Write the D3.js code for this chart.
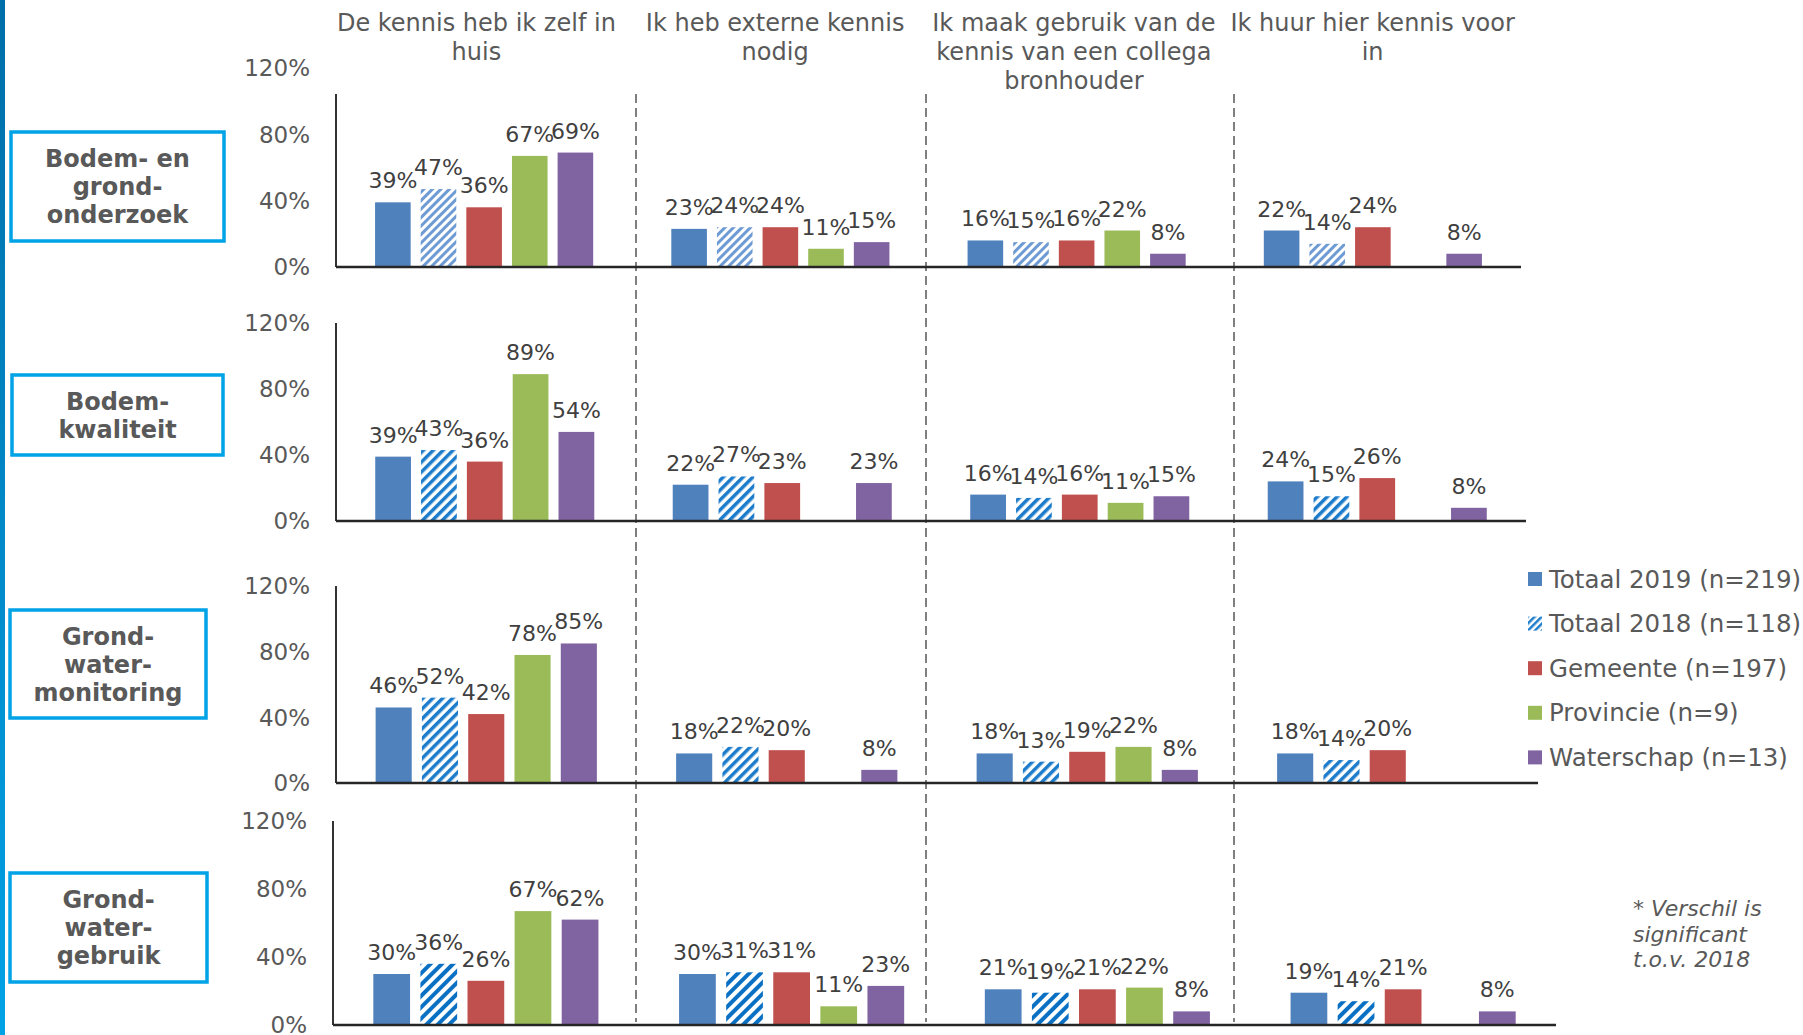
<!DOCTYPE html>
<html><head><meta charset="utf-8">
<script src="https://cdn.jsdelivr.net/npm/d3@7"></script>
<style>
html,body{margin:0;padding:0;background:#fff;}
svg{display:block;}
text{font-family:"DejaVu Sans",Verdana,sans-serif;fill:#595959;}
</style></head><body>
<svg id="chart" width="1803" height="1035"></svg>
<script>
// ---------- DATA ----------
const categories = ["De kennis heb ik zelf in huis", "Ik heb externe kennis nodig", "Ik maak gebruik van de kennis van een collega bronhouder", "Ik huur hier kennis voor in"];
const categoryLines = [["De kennis heb ik zelf in", "huis"], ["Ik heb externe kennis", "nodig"], ["Ik maak gebruik van de", "kennis van een collega", "bronhouder"], ["Ik huur hier kennis voor", "in"]];
const seriesNames = ["Totaal 2019 (n=219)", "Totaal 2018 (n=118)", "Gemeente (n=197)", "Provincie (n=9)", "Waterschap (n=13)"];
const topics = ["Bodem- en grondonderzoek", "Bodemkwaliteit", "Grondwatermonitoring", "Grondwatergebruik"];
const topicLines = [["Bodem- en", "grond-", "onderzoek"], ["Bodem-", "kwaliteit"], ["Grond-", "water-", "monitoring"], ["Grond-", "water-", "gebruik"]];
const yTicks = [0, 0.4, 0.8, 1.2];
// values (%) per category, in series order; null = no bar
const bodemGrondonderzoek = [[39, 47, 36, 67, 69], [23, 24, 24, 11, 15], [16, 15, 16, 22, 8], [22, 14, 24, null, 8]];
const bodemkwaliteit      = [[39, 43, 36, 89, 54], [22, 27, 23, null, 23], [16, 14, 16, 11, 15], [24, 15, 26, null, 8]];
const grondwatermonitoring = [[46, 52, 42, 78, 85], [18, 22, 20, null, 8], [18, 13, 19, 22, 8], [18, 14, 20, null, null]];
const grondwatergebruik   = [[30, 36, 26, 67, 62], [30, 31, 31, 11, 23], [21, 19, 21, 22, 8], [19, 14, 21, null, 8]];
const footnoteLines = ["* Verschil is", "significant", "t.o.v. 2018"];

const rowValues = [bodemGrondonderzoek, bodemkwaliteit, grondwatermonitoring, grondwatergebruik];

// ---------- LAYOUT / STYLE ----------
const colors = ["#4F81BD", null, "#C0504D", "#9BBB59", "#8064A2"];
const rows = [
  {x0: 336, x1: 1521, base: 267, top: 68, axisTop: 94, box: [11, 132, 213, 109], hatch: "#6E9BD3", hw: 3, hp: 6},
  {x0: 336, x1: 1526, base: 521, top: 323, axisTop: 323, box: [12, 375, 211, 80], hatch: "#1C7CCB", hw: 3.5, hp: 7},
  {x0: 336, x1: 1538, base: 783, top: 586, axisTop: 586, box: [10, 610, 196, 108], hatch: "#1C7CCB", hw: 3.5, hp: 7},
  {x0: 333, x1: 1556, base: 1025, top: 821, axisTop: 821, box: [10, 873, 197, 109], hatch: "#0A70C4", hw: 4, hp: 8}
];
const dividerX = [636, 926, 1234];

const svg = d3.select("#chart");
const defs = svg.append("defs");

// left gradient strip
const grad = defs.append("linearGradient").attr("id", "strip").attr("x1", 0).attr("y1", 0).attr("x2", 0).attr("y2", 1);
grad.append("stop").attr("offset", "0%").attr("stop-color", "#006EA8");
grad.append("stop").attr("offset", "100%").attr("stop-color", "#00A2E6");
svg.append("rect").attr("x", 0).attr("y", 0).attr("width", 5).attr("height", 1035).attr("fill", "url(#strip)");

function makeHatch(id, color, w, p) {
  const pat = defs.append("pattern").attr("id", id).attr("patternUnits", "userSpaceOnUse")
    .attr("width", p).attr("height", p).attr("patternTransform", "rotate(45)");
  pat.append("rect").attr("width", p).attr("height", p).attr("fill", "#fff");
  pat.append("rect").attr("x", 0).attr("y", 0).attr("width", w).attr("height", p).attr("fill", color);
}
rows.forEach((r, i) => makeHatch("hatch" + i, r.hatch, r.hw, r.hp));
makeHatch("hatchLegend", "#1C7CCB", 2.5, 5);

// headers
const xHead = d3.scaleBand().domain(categories).range([327, 1522]);
categories.forEach((c, ci) => {
  const t = svg.append("text").attr("text-anchor", "middle").style("font-size", "24px")
    .attr("x", xHead(c) + xHead.bandwidth() / 2).attr("y", 31);
  categoryLines[ci].forEach((ln, li) => t.append("tspan").attr("x", xHead(c) + xHead.bandwidth() / 2).attr("dy", li ? 28.8 : 0).text(ln));
});

// dividers
svg.selectAll("line.div").data(dividerX).join("line")
  .attr("x1", d => d).attr("x2", d => d).attr("y1", 94).attr("y2", 1022)
  .attr("stroke", "#7F7F7F").attr("stroke-width", 2).attr("stroke-dasharray", "9,5");

// rows
rows.forEach((r, ri) => {
  const g = svg.append("g");
  const x = d3.scaleBand().domain(categories).range([r.x0, r.x1]);
  const xs = d3.scaleBand().domain(d3.range(seriesNames.length)).range([0, x.bandwidth()]).paddingInner(0.22).paddingOuter(0.856);
  const y = d3.scaleLinear().domain([0, 1.2]).range([r.base, r.top]);

  // tick labels
  g.selectAll("text.tick").data(yTicks).join("text")
    .attr("x", r.x0 - 26).attr("y", d => y(d)).attr("dy", "0.36em").attr("text-anchor", "end")
    .style("font-size", "23px").text(d3.format(".0%"));

  // bars
  rowValues[ri].forEach((vals, ci) => {
    vals.forEach((v, si) => {
      if (v === null) return;
      const bx = x(categories[ci]) + xs(si);
      g.append("rect").attr("x", bx).attr("y", y(v / 100)).attr("width", xs.bandwidth())
        .attr("height", r.base - y(v / 100))
        .attr("fill", si === 1 ? "url(#hatch" + ri + ")" : colors[si]);
    });
  });
  // labels
  rowValues[ri].forEach((vals, ci) => {
    vals.forEach((v, si) => {
      if (v === null) return;
      g.append("text").attr("x", x(categories[ci]) + xs(si) + xs.bandwidth() / 2).attr("y", y(v / 100) - 14)
        .attr("text-anchor", "middle").style("font-size", "22px").style("fill", "#404040").text(v + "%");
    });
  });

  // axes
  g.append("line").attr("x1", r.x0).attr("x2", r.x0).attr("y1", r.axisTop).attr("y2", r.base).attr("stroke", "#333").attr("stroke-width", 2);
  g.append("line").attr("x1", r.x0).attr("x2", r.x1).attr("y1", r.base).attr("y2", r.base).attr("stroke", "#262626").attr("stroke-width", 2.5);

  // topic box
  const [bx, by, bw, bh] = r.box;
  svg.append("rect").attr("x", bx).attr("y", by).attr("width", bw).attr("height", bh)
    .attr("fill", "#fff").attr("stroke", "#00A3E6").attr("stroke-width", 3.5);
  const n = topicLines[ri].length;
  const t = svg.append("text").attr("text-anchor", "middle").style("font-size", "24px").style("font-weight", "bold");
  topicLines[ri].forEach((ln, li) => t.append("tspan").attr("x", bx + bw / 2)
    .attr("y", by + bh / 2 + (li - (n - 1) / 2) * 28 + 8.5).text(ln));
});

// legend
const leg = svg.append("g");
seriesNames.forEach((s, i) => {
  const cy = 579 + i * 44.6;
  leg.append("rect").attr("x", 1528).attr("y", cy - 7).attr("width", 14).attr("height", 14)
    .attr("fill", i === 1 ? "url(#hatchLegend)" : colors[i]);
  leg.append("text").attr("x", 1549).attr("y", cy + 8.5).style("font-size", "24.5px").text(s);
});

// footnote
const fn = svg.append("text").style("font-size", "22px").style("font-style", "italic");
footnoteLines.forEach((ln, i) => fn.append("tspan").attr("x", 1633).attr("y", 916 + i * 25.5).text(ln));
</script>
</body></html>
